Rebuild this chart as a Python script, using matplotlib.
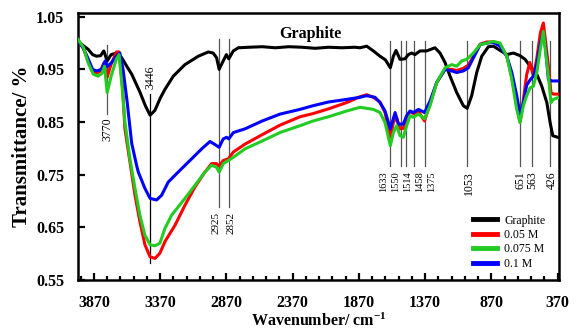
import matplotlib
matplotlib.use('Agg')
import matplotlib.pyplot as plt
from matplotlib.ticker import MultipleLocator

plt.rcParams['font.family'] = ['Liberation Serif', 'DejaVu Serif']
plt.rcParams['mathtext.fontset'] = 'custom'
plt.rcParams['mathtext.rm'] = 'Liberation Serif'
plt.rcParams['mathtext.bf'] = 'Liberation Serif:bold'

# Graphite
wn_graphite = [3990, 3950, 3913, 3880, 3850, 3820, 3795, 3770, 3740, 3700, 3660, 3620, 3585, 3523, 3480,
               3446, 3410, 3370, 3334, 3271, 3183, 3082, 3007, 2970, 2944, 2925, 2900, 2870, 2852, 2818,
               2780, 2700, 2600, 2500, 2400, 2300, 2200, 2100, 2000, 1900, 1862, 1811, 1761, 1711, 1670,
               1633, 1610, 1590, 1560, 1522, 1497, 1472, 1447, 1409, 1359, 1296, 1258, 1220, 1182, 1132,
               1082, 1053, 1019, 981, 943, 893, 855, 805, 754, 704, 654, 616, 578, 528, 490, 452, 427, 407, 370]
t_graphite = [1.003, 0.995, 0.988, 0.978, 0.975, 0.976, 0.985, 0.966, 0.978, 0.981, 0.972, 0.955, 0.941, 0.907, 0.880,
              0.863, 0.872, 0.895, 0.912, 0.937, 0.959, 0.975, 0.983, 0.981, 0.972, 0.950, 0.963, 0.978, 0.970, 0.985,
              0.991, 0.992, 0.993, 0.991, 0.993, 0.992, 0.990, 0.992, 0.991, 0.992, 0.991, 0.994, 0.985, 0.975, 0.968,
              0.953, 0.975, 0.986, 0.969, 0.970, 0.978, 0.981, 0.978, 0.985, 0.985, 0.991, 0.981, 0.963, 0.937, 0.906,
              0.881, 0.876, 0.900, 0.944, 0.975, 0.993, 0.994, 0.986, 0.978, 0.981, 0.976, 0.969, 0.956, 0.941, 0.918,
              0.887, 0.849, 0.824, 0.821]

# 0.05 M
wn_005 = [3990, 3950, 3913, 3880, 3850, 3820, 3795, 3770, 3740, 3700, 3680, 3655, 3636, 3598, 3560, 3523, 3485,
          3446, 3409, 3372, 3334, 3258, 3183, 3107, 3032, 2982, 2944, 2925, 2894, 2856, 2818, 2730, 2600, 2466,
          2315, 2216, 2100, 1962, 1862, 1811, 1761, 1711, 1673, 1633, 1610, 1585, 1560, 1535, 1510, 1484, 1459,
          1421, 1375, 1333, 1283, 1220, 1170, 1132, 1082, 1044, 1006, 955, 905, 855, 805, 754, 716, 679, 654,
          630, 604, 580, 553, 528, 500, 478, 460, 440, 421, 402, 370]
t_005 = [1.005, 0.990, 0.965, 0.945, 0.943, 0.947, 0.962, 0.935, 0.960, 0.983, 0.983, 0.920, 0.837, 0.774, 0.711,
         0.661, 0.617, 0.594, 0.591, 0.601, 0.623, 0.654, 0.692, 0.727, 0.755, 0.771, 0.771, 0.766, 0.777, 0.780,
         0.793, 0.808, 0.826, 0.844, 0.860, 0.866, 0.875, 0.887, 0.898, 0.902, 0.897, 0.888, 0.868, 0.818, 0.850,
         0.858, 0.837, 0.838, 0.860, 0.870, 0.866, 0.870, 0.852, 0.885, 0.925, 0.950, 0.950, 0.948, 0.952, 0.958,
         0.975, 0.998, 1.002, 1.002, 0.996, 0.975, 0.935, 0.880, 0.850, 0.890, 0.940, 0.963, 0.937, 0.970, 1.020,
         1.038, 1.000, 0.956, 0.906, 0.903, 0.903]

# 0.075 M
wn_0075 = [3990, 3950, 3913, 3875, 3840, 3810, 3790, 3770, 3740, 3700, 3680, 3655, 3636, 3598, 3560, 3523, 3485,
           3446, 3409, 3372, 3334, 3284, 3183, 3107, 3032, 2982, 2944, 2925, 2894, 2856, 2818, 2730, 2600, 2466,
           2315, 2216, 2100, 1962, 1862, 1761, 1711, 1673, 1633, 1610, 1585, 1560, 1535, 1510, 1484, 1459, 1421,
           1375, 1333, 1283, 1220, 1170, 1132, 1094, 1057, 1006, 955, 905, 855, 805, 754, 716, 679, 654, 630,
           604, 578, 553, 528, 500, 478, 460, 440, 421, 402, 370]
t_0075 = [1.007, 0.992, 0.962, 0.941, 0.937, 0.942, 0.956, 0.906, 0.937, 0.970, 0.978, 0.910, 0.850, 0.780, 0.724,
          0.673, 0.635, 0.617, 0.615, 0.620, 0.648, 0.673, 0.705, 0.730, 0.755, 0.768, 0.764, 0.755, 0.771, 0.777,
          0.783, 0.799, 0.814, 0.830, 0.843, 0.852, 0.860, 0.871, 0.878, 0.874, 0.868, 0.849, 0.805, 0.830, 0.843,
          0.824, 0.821, 0.843, 0.862, 0.859, 0.865, 0.856, 0.881, 0.925, 0.953, 0.959, 0.956, 0.966, 0.969, 0.981,
          0.997, 1.000, 1.003, 1.000, 0.975, 0.931, 0.874, 0.849, 0.880, 0.900, 0.915, 0.918, 0.944, 0.990, 1.022,
          0.980, 0.937, 0.887, 0.893, 0.896]

# 0.1 M
wn_01 = [3990, 3950, 3913, 3880, 3850, 3812, 3785, 3770, 3740, 3700, 3674, 3650, 3620, 3585, 3550, 3535, 3485,
         3446, 3397, 3359, 3309, 3234, 3133, 3057, 2994, 2961, 2925, 2894, 2868, 2852, 2818, 2730, 2600, 2466,
         2315, 2216, 2100, 1962, 1862, 1811, 1749, 1711, 1673, 1633, 1597, 1572, 1535, 1510, 1484, 1459, 1421,
         1375, 1333, 1283, 1220, 1170, 1132, 1082, 1044, 1006, 955, 905, 855, 805, 754, 716, 679, 654, 630,
         604, 578, 553, 528, 500, 478, 460, 440, 415, 370]
t_01 = [1.005, 0.990, 0.970, 0.950, 0.947, 0.950, 0.966, 0.955, 0.962, 0.975, 0.981, 0.950, 0.890, 0.810, 0.770,
        0.755, 0.724, 0.705, 0.702, 0.711, 0.736, 0.755, 0.780, 0.799, 0.813, 0.808, 0.802, 0.818, 0.821, 0.818,
        0.830, 0.837, 0.852, 0.865, 0.874, 0.881, 0.888, 0.893, 0.897, 0.900, 0.897, 0.887, 0.871, 0.837, 0.868,
        0.846, 0.846, 0.862, 0.871, 0.868, 0.874, 0.868, 0.890, 0.925, 0.950, 0.947, 0.944, 0.947, 0.953, 0.972,
        0.997, 1.000, 1.001, 0.994, 0.975, 0.944, 0.900, 0.865, 0.885, 0.920, 0.930, 0.937, 0.960, 1.000, 1.020,
        0.985, 0.931, 0.928, 0.928]

# peak markers
peaks_left = ['3770', '3446', '2925', '2852']
peaks_right = ['1633', '1550', '1514', '1458', '1375', '1053', '651', '563', '426']

fig = plt.figure(figsize=(5.8, 3.31), dpi=100)
ax = fig.add_axes([0.1345, 0.154, 0.8293, 0.8067])

ax.plot(wn_graphite, t_graphite, color='black', lw=2.2, label='Graphite', zorder=3)
ax.plot(wn_005, t_005, color='#ff0000', lw=2.2, label='0.05 M', zorder=4)
ax.plot(wn_01, t_01, color='#0000ff', lw=2.2, label='0.1 M', zorder=5)
ax.plot(wn_0075, t_0075, color='#22cc22', lw=2.2, label='0.075 M', zorder=6)

lc = '#555555'
fs_peak = 8.5
# 3770: line above label
ax.plot([3770, 3770], [0.997, 0.865], color=lc, lw=0.9, zorder=2)
ax.text(3770, 0.859, '3770', rotation=90, ha='center', va='top', fontsize=fs_peak)
# 3446: label above line
ax.plot([3446, 3446], [0.903, 0.582], color='black', lw=0.9, zorder=2)
ax.text(3446, 0.912, '3446', rotation=90, ha='center', va='bottom', fontsize=fs_peak)
# 2925 / 2852: labels nudged apart
for p, lx in zip(peaks_left[2:], [2945, 2835]):
    ax.plot([float(p), float(p)], [1.007, 0.688], color=lc, lw=0.9, zorder=2)
    ax.text(lx, 0.680, p, rotation=90, ha='center', va='top', fontsize=8)

# crowded labels spread a little so they do not collide
label_x = [1680, 1590, 1500, 1410, 1318, 1040, 651, 563, 412]
for i, (p, lx) in enumerate(zip(peaks_right, label_x)):
    ax.plot([float(p), float(p)], [1.004, 0.766], color=lc, lw=0.9, zorder=2)
    ax.text(lx, 0.757, p, rotation=90, ha='center', va='top',
            fontsize=7.5 if i < 5 else fs_peak)

ax.text(2239, 1.018, 'Graphite', ha='center', va='center', fontsize=11.5, fontweight='bold')

ax.set_xlim(3990, 360)
ax.set_ylim(0.55, 1.057)
ax.xaxis.set_major_locator(MultipleLocator(500, offset=370))
ax.xaxis.set_minor_locator(MultipleLocator(100, offset=70))
ax.set_yticks([0.55, 0.65, 0.75, 0.85, 0.95, 1.05])
ax.set_yticklabels(['0.55', '0.65', '0.75', '0.85', '0.95', '1.05'])
ax.tick_params(which='both', direction='in', top=False, right=False, width=1.6)
ax.tick_params(which='major', length=5, labelsize=11.5)
ax.tick_params(axis='x', which='major', pad=11)
ax.tick_params(axis='y', which='major', pad=10)
ax.tick_params(which='minor', length=3)
for lab in ax.get_xticklabels() + ax.get_yticklabels():
    lab.set_fontweight('bold')
for s in ax.spines.values():
    s.set_linewidth(1.8)

ax.set_xlabel('Wavenumber/ cm$\\mathbf{^{-1}}$', fontsize=11.5, fontweight='bold', labelpad=1)
ax.set_ylabel('Transmittance/ %', fontsize=15, fontweight='bold', labelpad=3)

handles, labels = ax.get_legend_handles_labels()
order = [0, 1, 3, 2]
leg = ax.legend([handles[i] for i in order], [labels[i] for i in order],
                loc='upper left', bbox_to_anchor=(0.80, 0.285), frameon=False,
                fontsize=8.5, handlelength=2.0, handletextpad=0.6, labelspacing=0.2)
for h in leg.legend_handles:
    h.set_linewidth(3.5)

fig.savefig('out.png', dpi=100)
